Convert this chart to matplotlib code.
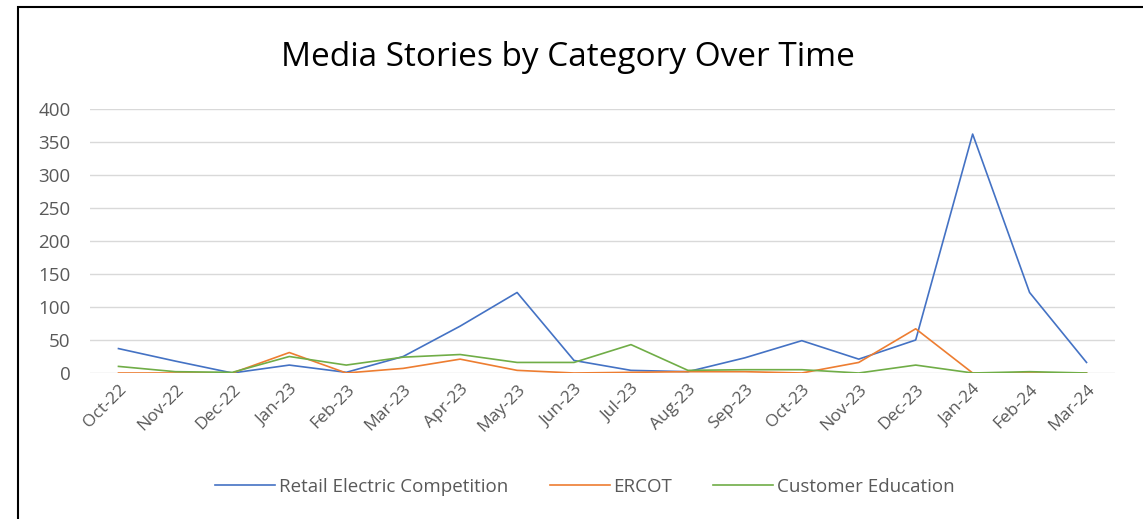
import matplotlib
matplotlib.use("Agg")
import matplotlib.pyplot as plt
from matplotlib.patches import Rectangle

months = ["Oct-22", "Nov-22", "Dec-22", "Jan-23", "Feb-23", "Mar-23", "Apr-23",
          "May-23", "Jun-23", "Jul-23", "Aug-23", "Sep-23", "Oct-23", "Nov-23",
          "Dec-23", "Jan-24", "Feb-24", "Mar-24"]
retail = [37, 18, 0, 12, 1, 25, 71, 122, 19, 4, 2, 23, 49, 21, 50, 362, 122, 16]
ercot = [0, 0, 0, 31, 0, 7, 21, 4, 0, 1, 2, 2, 0, 16, 67, 0, 0, 0]
education = [10, 2, 1, 25, 12, 24, 28, 16, 16, 43, 4, 5, 5, 0, 12, 0, 2, 0]

series = [
    ("Retail Electric Competition", retail, "#4472C4"),
    ("ERCOT", ercot, "#ED7D31"),
    ("Customer Education", education, "#70AD47"),
]

plt.rcParams["font.family"] = ["Open Sans", "DejaVu Sans"]

W, H = 1143, 519
fig = plt.figure(figsize=(W / 100, H / 100), dpi=100)
ax = fig.add_axes([90 / W, 1 - 373 / H, 1025 / W, 264 / H])

x = range(len(months))
for label, values, color in series:
    ax.plot(x, values, color=color, lw=1.2, label=label)

ax.set_xlim(-0.5, len(months) - 0.5)
ax.set_ylim(0, 400)
ax.set_yticks(range(0, 401, 50))
ax.set_xticks(list(x))
ax.set_xticklabels(months, rotation=45, ha="right", rotation_mode="anchor")
ax.tick_params(axis="both", length=0, colors="#595959")
ax.tick_params(axis="y", pad=14, labelsize=13.5)
ax.tick_params(axis="x", pad=6, labelsize=12.5)
ax.grid(axis="y", color="#D9D9D9", lw=1)
ax.set_axisbelow(True)
for side in ax.spines.values():
    side.set_visible(False)

fig.text(568 / W, 1 - 57 / H, "Media Stories by Category Over Time",
         ha="center", va="center", fontsize=24, color="#000000")

fig.legend(loc="center", bbox_to_anchor=(585 / W, 1 - 487 / H), ncol=3,
           frameon=False, fontsize=13.5, handlelength=3.2, columnspacing=2.2,
           handletextpad=0.2, labelcolor="#595959")

# outer chart frame
fig.patches.append(Rectangle((18 / W, -0.1), 1.2, 1 - 7 / H + 0.1,
                             transform=fig.transFigure, fill=False,
                             edgecolor="black", lw=1.5))

fig.savefig("out.png", dpi=100)
